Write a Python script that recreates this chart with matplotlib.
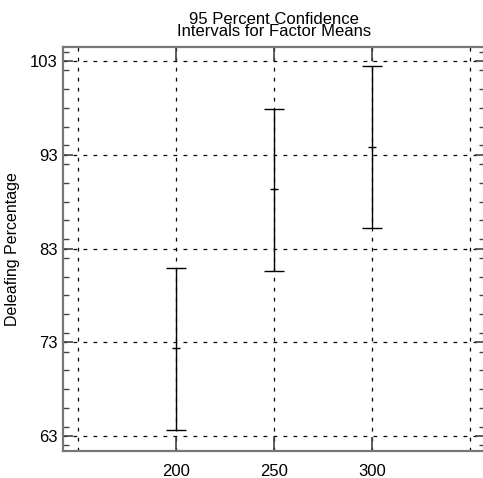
import matplotlib
matplotlib.use("Agg")
import matplotlib.pyplot as plt
from matplotlib.ticker import MultipleLocator

plt.rcParams["font.family"] = ["Liberation Sans", "DejaVu Sans"]

# data
levels = [200, 250, 300]
means = [72.4, 89.35, 93.8]
lower = [63.6, 80.6, 85.2]
upper = [80.9, 97.9, 102.5]
grid_x = [150, 200, 250, 300, 350]
grid_y = [63, 73, 83, 93, 103]

fig = plt.figure(figsize=(4.83, 4.78), dpi=100)
ax = fig.add_axes([63 / 483, 1 - 451 / 478, (485 - 63) / 483, (451 - 47) / 478])

ax.set_xlim(142.3, 357.7)
ax.set_ylim(61.4, 104.5)

# dashed grid
for gx in grid_x:
    ax.axvline(gx, color="black", linestyle=(0, (3, 5)), linewidth=0.9, zorder=1)
for gy in grid_y:
    ax.axhline(gy, color="black", linestyle=(0, (3, 5)), linewidth=0.9, zorder=1)

# intervals
for x, m, lo, hi in zip(levels, means, lower, upper):
    ax.vlines(x, lo, hi, color="black", linewidth=1.0, zorder=3)
    ax.hlines([lo, hi], x - 5.1, x + 5.1, color="black", linewidth=1.0, zorder=3)
    ax.hlines(m, x - 2.0, x + 2.0, color="black", linewidth=1.0, zorder=3)

ax.set_xticks(levels)
ax.set_xticklabels([str(v) for v in levels])
ax.set_yticks(grid_y)
ax.yaxis.set_minor_locator(MultipleLocator(2))

ax.tick_params(axis="x", which="major", direction="in", length=10, width=1.2,
               top=True, bottom=True, labelsize=12, pad=9, color="#444444")
ax.tick_params(axis="y", which="major", direction="in", length=7, width=1.2,
               left=True, right=True, labelsize=12, pad=4, color="#444444")
ax.tick_params(axis="y", which="minor", direction="in", length=4, width=1.0,
               left=True, right=True, color="#444444")

for s in ax.spines.values():
    s.set_color("#777777")
    s.set_linewidth(1.6)

ax.set_ylabel("Deleafing Percentage", fontsize=11.5, labelpad=7)
ax.set_title("95 Percent Confidence\nIntervals for Factor Means", fontsize=12,
             linespacing=0.76, pad=8)

fig.savefig("out.png", dpi=100)
